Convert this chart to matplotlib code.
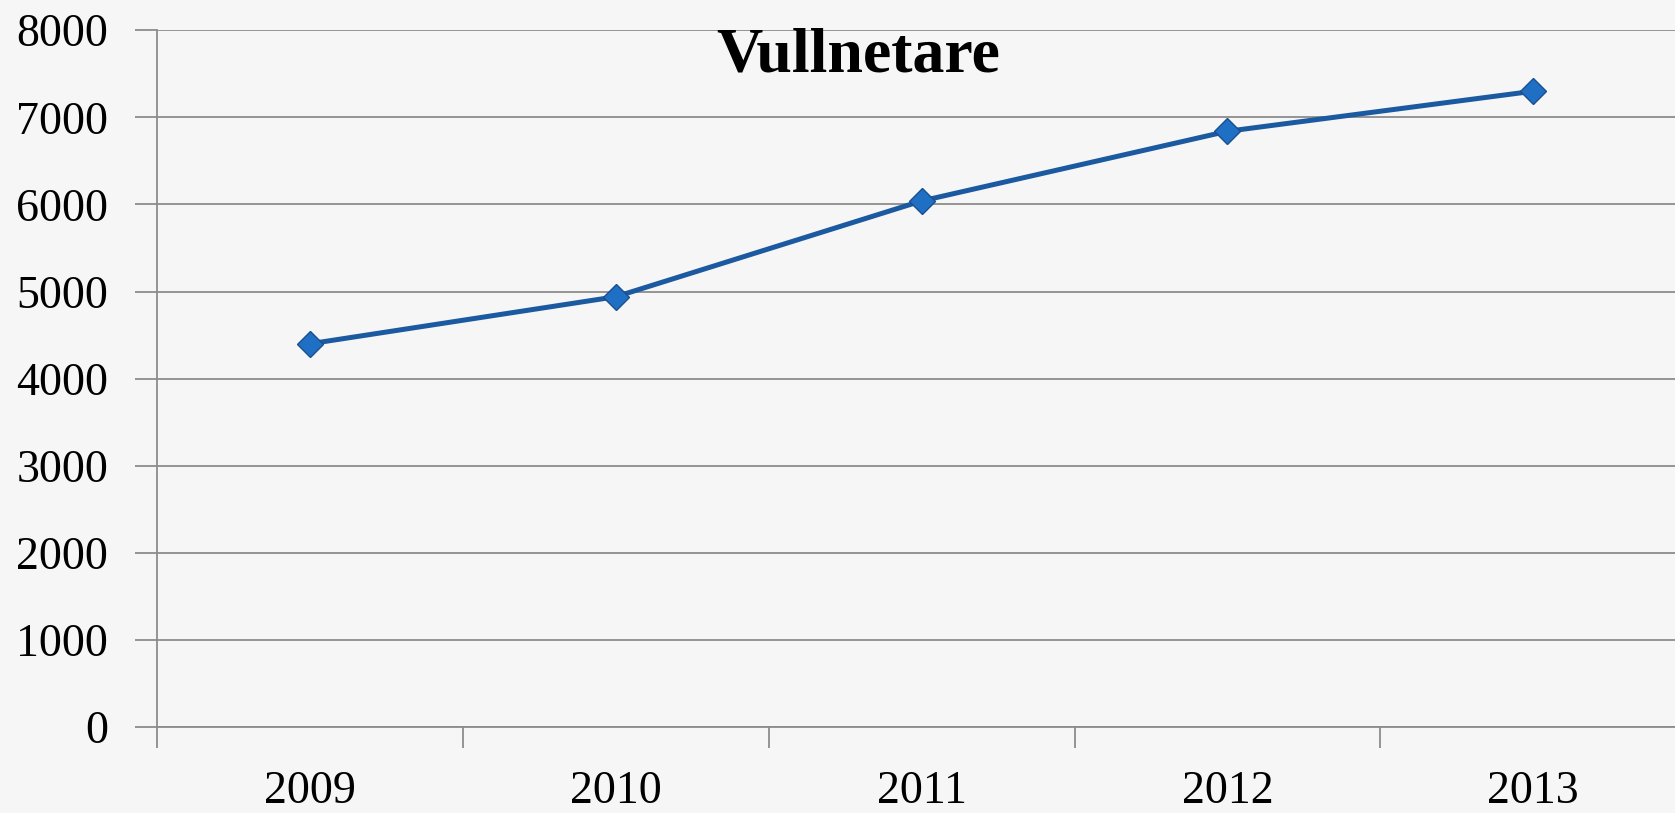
import matplotlib.pyplot as plt
import numpy as np

years = ["2009", "2010", "2011", "2012", "2013"]
vullnetare = [4400, 4940, 6040, 6840, 7300]
y_ticks = [0, 1000, 2000, 3000, 4000, 5000, 6000, 7000, 8000]

bg = "#f6f6f6"
grid_col = "#8c8c8c"

fig = plt.figure(figsize=(16.75, 8.13), dpi=100, facecolor=bg)
ax = fig.add_axes([0.0937, 0.1058, 0.913, 0.857])
ax.set_facecolor(bg)

x = np.arange(len(years))
ax.plot(x, vullnetare, color="#1b5aa0", lw=3.6, marker="D", ms=13,
        markerfacecolor="#1f6fc4", markeredgecolor="#1a4f8f", markeredgewidth=1,
        zorder=3)

ax.set_xlim(-0.5, len(years) - 0.5)
ax.set_ylim(0, 8000)

# horizontal gridlines
ax.set_yticks(y_ticks)
ax.set_yticklabels([str(v) for v in y_ticks])
ax.yaxis.grid(True, color=grid_col, lw=1.3)
ax.set_axisbelow(True)
ax.tick_params(axis="y", length=16, width=1.3, color=grid_col, pad=19,
               labelsize=33, labelcolor="black")

# category labels at centres, tick marks at the boundaries
ax.set_xticks(x)
ax.set_xticklabels(years)
ax.set_xticks(np.arange(len(years) + 1) - 0.5, minor=True)
ax.tick_params(axis="x", which="major", length=0, pad=31, labelsize=33)
ax.tick_params(axis="x", which="minor", length=15, width=1.3, color=grid_col)

for lab in ax.get_xticklabels() + ax.get_yticklabels():
    lab.set_family("Liberation Serif")

for side in ["top", "right"]:
    ax.spines[side].set_visible(False)
for side in ["left", "bottom"]:
    ax.spines[side].set_color(grid_col)
    ax.spines[side].set_linewidth(1.3)

fig.text(858 / 1675, 1 - 57 / 813, "Vullnetare", ha="center", va="center",
         fontsize=46, fontweight="bold", family="Liberation Serif")

fig.savefig("out.png", dpi=100, facecolor=bg)
